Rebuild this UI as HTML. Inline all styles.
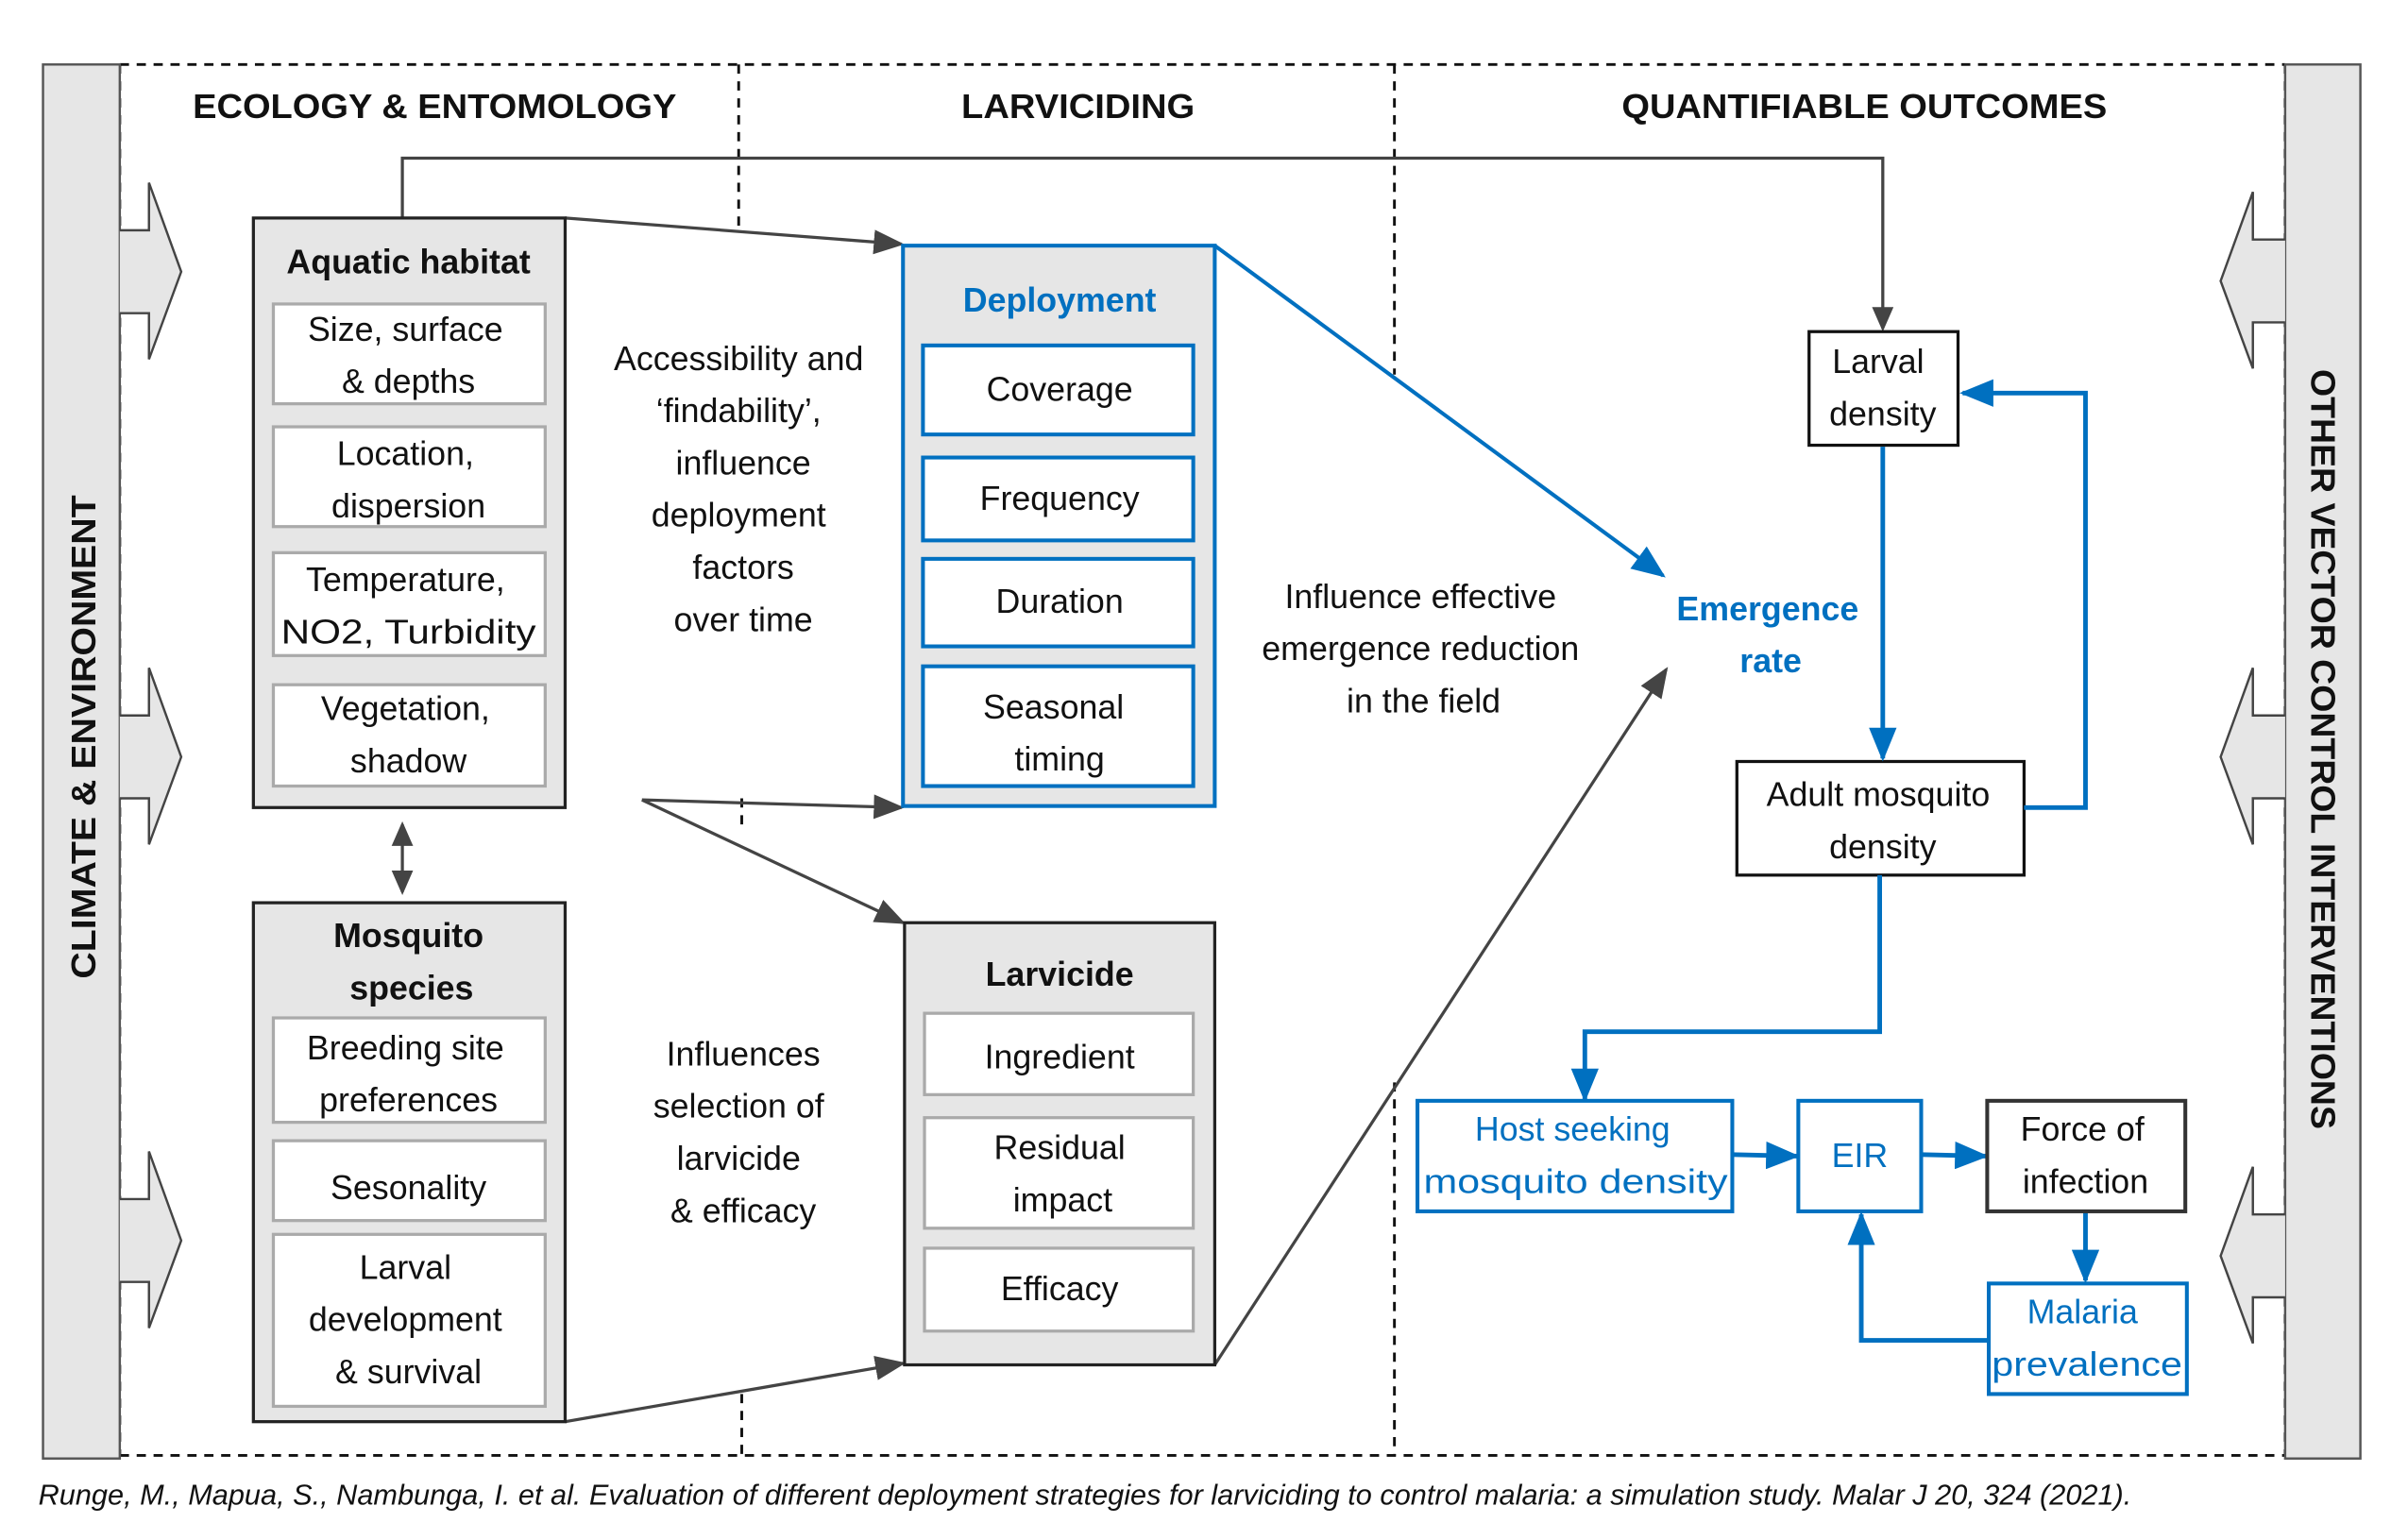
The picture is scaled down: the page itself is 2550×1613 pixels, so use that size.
<!DOCTYPE html>
<html><head><meta charset="utf-8"><style>
html,body{margin:0;padding:0;background:#fff}
svg{display:block}
text{font-family:"Liberation Sans",sans-serif;fill:#111}
.t{font-size:22px;text-anchor:middle}
.b{font-weight:bold}
.bl{fill:#0070c0}
</style></head><body>
<svg width="2550" height="1613" viewBox="0 0 1568 992" preserveAspectRatio="none" xmlns="http://www.w3.org/2000/svg">
<defs>
<marker id="ag" markerUnits="userSpaceOnUse" markerWidth="20" markerHeight="16" refX="18" refY="8" orient="auto"><path d="M0,0 L20,8 L0,16 Z" fill="#444"/></marker>
<marker id="ab" markerUnits="userSpaceOnUse" markerWidth="22" markerHeight="18" refX="20" refY="9" orient="auto"><path d="M0,0 L22,9 L0,18 Z" fill="#0070c0"/></marker>
<marker id="ag2" markerUnits="userSpaceOnUse" markerWidth="16" markerHeight="14" refX="14" refY="7" orient="auto-start-reverse"><path d="M0,0 L16,7 L0,14 Z" fill="#444"/></marker>
</defs>

<!-- dashed frame -->
<g stroke="#111" stroke-width="1.8" stroke-dasharray="6,5" fill="none">
<line x1="78" y1="42" x2="1488" y2="42"/>
<line x1="78" y1="948" x2="1488" y2="948"/>
<line x1="78" y1="42" x2="78" y2="948"/>
<line x1="1488" y1="42" x2="1488" y2="948"/>
<line x1="481" y1="42" x2="481" y2="148"/>
<line x1="483" y1="520" x2="483" y2="542"/>
<line x1="483" y1="908" x2="483" y2="948"/>
<line x1="908" y1="42" x2="908" y2="244"/>
<line x1="908" y1="705" x2="908" y2="948"/>
</g>

<!-- side bars -->
<rect x="28" y="42" width="50" height="908" fill="#e6e6e6" stroke="#555" stroke-width="1.5"/>
<rect x="1488" y="42" width="49" height="908" fill="#e6e6e6" stroke="#555" stroke-width="1.5"/>
<g fill="#e6e6e6" stroke="#444" stroke-width="1.5">
<path d="M78,150 L97,150 L97,119 L118,177 L97,234 L97,204 L78,204"/>
<path d="M78,466 L97,466 L97,435 L118,493 L97,550 L97,520 L78,520"/>
<path d="M78,781 L97,781 L97,750 L118,808 L97,865 L97,835 L78,835"/>
<path d="M1488,156 L1467,156 L1467,125 L1446,183 L1467,240 L1467,210 L1488,210"/>
<path d="M1488,466 L1467,466 L1467,435 L1446,493 L1467,550 L1467,520 L1488,520"/>
<path d="M1488,791 L1467,791 L1467,760 L1446,818 L1467,875 L1467,845 L1488,845"/>
</g>
<text class="b" font-size="22" text-anchor="middle" transform="translate(62,480) rotate(-90)" textLength="315" lengthAdjust="spacingAndGlyphs">CLIMATE &amp; ENVIRONMENT</text>
<text class="b" font-size="22" text-anchor="middle" transform="translate(1505,488) rotate(90)" textLength="495" lengthAdjust="spacingAndGlyphs">OTHER VECTOR CONTROL INTERVENTIONS</text>

<!-- titles -->
<text class="t b" x="283" y="77" font-size="24" textLength="315" lengthAdjust="spacingAndGlyphs">ECOLOGY &amp; ENTOMOLOGY</text>
<text class="t b" x="702" y="77" font-size="24" textLength="152" lengthAdjust="spacingAndGlyphs">LARVICIDING</text>
<text class="t b" x="1214" y="77" font-size="24" textLength="316" lengthAdjust="spacingAndGlyphs">QUANTIFIABLE OUTCOMES</text>

<!-- connectors gray -->
<g stroke="#444" stroke-width="2" fill="none">
<polyline points="262,142 262,103 1226,103 1226,214" marker-end="url(#ag2)"/>
<line x1="368" y1="142" x2="587" y2="159" marker-end="url(#ag)"/>
<line x1="418" y1="521" x2="587" y2="526" marker-end="url(#ag)"/>
<line x1="418" y1="521" x2="588" y2="601" marker-end="url(#ag)"/>
<line x1="368" y1="926" x2="588" y2="888" marker-end="url(#ag)"/>
<line x1="791" y1="889" x2="1085" y2="436" marker-end="url(#ag)"/>
<line x1="262" y1="537" x2="262" y2="581" marker-start="url(#ag2)" marker-end="url(#ag2)"/>
</g>

<!-- Aquatic habitat -->
<rect x="165" y="142" width="203" height="384" fill="#e6e6e6" stroke="#222" stroke-width="2"/>
<text class="t b" x="266" y="178" font-size="23">Aquatic habitat</text>
<g fill="#fff" stroke="#aaa" stroke-width="2">
<rect x="178" y="198" width="177" height="65"/>
<rect x="178" y="278" width="177" height="65"/>
<rect x="178" y="360" width="177" height="67"/>
<rect x="178" y="446" width="177" height="66"/>
</g>
<text class="t" x="264" y="222">Size, surface</text>
<text class="t" x="266" y="256">&amp; depths</text>
<text class="t" x="264" y="303">Location,</text>
<text class="t" x="266" y="337">dispersion</text>
<text class="t" x="264" y="385">Temperature,</text>
<text class="t" x="266" y="419" textLength="166" lengthAdjust="spacingAndGlyphs">NO2, Turbidity</text>
<text class="t" x="264" y="469">Vegetation,</text>
<text class="t" x="266" y="503">shadow</text>

<!-- Mosquito species -->
<rect x="165" y="588" width="203" height="338" fill="#e6e6e6" stroke="#222" stroke-width="2"/>
<rect x="178" y="663" width="177" height="68" fill="#fff" stroke="#aaa" stroke-width="2"/>
<rect x="178" y="743" width="177" height="52" fill="#fff" stroke="#aaa" stroke-width="2"/>
<rect x="178" y="804" width="177" height="112" fill="#fff" stroke="#aaa" stroke-width="2"/>
<text class="t b" x="266" y="617" font-size="23">Mosquito</text>
<text class="t b" x="268" y="651" font-size="23">species</text>
<text class="t" x="264" y="690">Breeding site</text>
<text class="t" x="266" y="724">preferences</text>
<text class="t" x="266" y="781">Sesonality</text>
<text class="t" x="264" y="833">Larval</text>
<text class="t" x="264" y="867">development</text>
<text class="t" x="266" y="901">&amp; survival</text>

<!-- middle texts -->
<text class="t" x="481" y="241">Accessibility and</text>
<text class="t" x="481" y="275">‘findability’,</text>
<text class="t" x="484" y="309">influence</text>
<text class="t" x="481" y="343">deployment</text>
<text class="t" x="484" y="377">factors</text>
<text class="t" x="484" y="411">over time</text>
<text class="t" x="484" y="694">Influences</text>
<text class="t" x="481" y="728">selection of</text>
<text class="t" x="481" y="762">larvicide</text>
<text class="t" x="484" y="796">&amp; efficacy</text>

<!-- Deployment -->
<rect x="588" y="160" width="203" height="365" fill="#e6e6e6" stroke="#0070c0" stroke-width="2.5"/>
<text class="t b bl" x="690" y="203" font-size="23">Deployment</text>
<g fill="#fff" stroke="#0070c0" stroke-width="2.5">
<rect x="601" y="225" width="176" height="58"/>
<rect x="601" y="298" width="176" height="54"/>
<rect x="601" y="364" width="176" height="57"/>
<rect x="601" y="434" width="176" height="78"/>
</g>
<text class="t" x="690" y="261">Coverage</text>
<text class="t" x="690" y="332">Frequency</text>
<text class="t" x="690" y="399">Duration</text>
<text class="t" x="686" y="468">Seasonal</text>
<text class="t" x="690" y="502">timing</text>

<!-- Larvicide -->
<rect x="589" y="601" width="202" height="288" fill="#e6e6e6" stroke="#222" stroke-width="2"/>
<text class="t b" x="690" y="642" font-size="23">Larvicide</text>
<g fill="#fff" stroke="#aaa" stroke-width="2">
<rect x="602" y="660" width="175" height="53"/>
<rect x="602" y="728" width="175" height="72"/>
<rect x="602" y="813" width="175" height="54"/>
</g>
<text class="t" x="690" y="696">Ingredient</text>
<text class="t" x="690" y="755">Residual</text>
<text class="t" x="692" y="789">impact</text>
<text class="t" x="690" y="847">Efficacy</text>

<!-- right middle text -->
<text class="t" x="925" y="396">Influence effective</text>
<text class="t" x="925" y="430">emergence reduction</text>
<text class="t" x="927" y="464">in the field</text>

<line x1="791" y1="160" x2="1083" y2="375" stroke="#0070c0" stroke-width="2.5" marker-end="url(#ab)"/>
<text class="t b bl" x="1151" y="404" font-size="23">Emergence</text>
<text class="t b bl" x="1153" y="438" font-size="23">rate</text>

<!-- outcome boxes -->
<rect x="1178" y="216" width="97" height="74" fill="#fff" stroke="#111" stroke-width="2"/>
<text class="t" x="1223" y="243">Larval</text>
<text class="t" x="1226" y="277">density</text>
<rect x="1131" y="496" width="187" height="74" fill="#fff" stroke="#111" stroke-width="2"/>
<text class="t" x="1223" y="525">Adult mosquito</text>
<text class="t" x="1226" y="559">density</text>

<g stroke="#0070c0" stroke-width="3" fill="none">
<line x1="1226" y1="291" x2="1226" y2="494" marker-end="url(#ab)"/>
<polyline points="1318,526 1358,526 1358,256 1278,256" marker-end="url(#ab)"/>
<polyline points="1224,570 1224,672 1032,672 1032,716" marker-end="url(#ab)"/>
<line x1="1128" y1="752" x2="1170" y2="753" marker-end="url(#ab)"/>
<line x1="1251" y1="752" x2="1293" y2="753" marker-end="url(#ab)"/>
<line x1="1358" y1="789" x2="1358" y2="834" marker-end="url(#ab)"/>
<polyline points="1295,873 1212,873 1212,791" marker-end="url(#ab)"/>
</g>

<rect x="923" y="717" width="205" height="72" fill="#fff" stroke="#0070c0" stroke-width="2.5"/>
<text class="t bl" x="1024" y="743">Host seeking</text>
<text class="t bl" x="1026" y="777" textLength="198" lengthAdjust="spacingAndGlyphs">mosquito density</text>
<rect x="1171" y="717" width="80" height="72" fill="#fff" stroke="#0070c0" stroke-width="2.5"/>
<text class="t bl" x="1211" y="760">EIR</text>
<rect x="1294" y="717" width="129" height="72" fill="#fff" stroke="#333" stroke-width="2.5"/>
<text class="t" x="1356" y="743">Force of</text>
<text class="t" x="1358" y="777">infection</text>
<rect x="1295" y="836" width="129" height="72" fill="#fff" stroke="#0070c0" stroke-width="2.5"/>
<text class="t bl" x="1356" y="862">Malaria</text>
<text class="t bl" x="1359" y="896" textLength="124" lengthAdjust="spacingAndGlyphs">prevalence</text>

<!-- footer -->
<text x="25" y="980" font-size="19" font-style="italic" textLength="1363" lengthAdjust="spacingAndGlyphs">Runge, M., Mapua, S., Nambunga, I. et al. Evaluation of different deployment strategies for larviciding to control malaria: a simulation study. Malar J 20, 324 (2021).</text>
</svg>
</body></html>
